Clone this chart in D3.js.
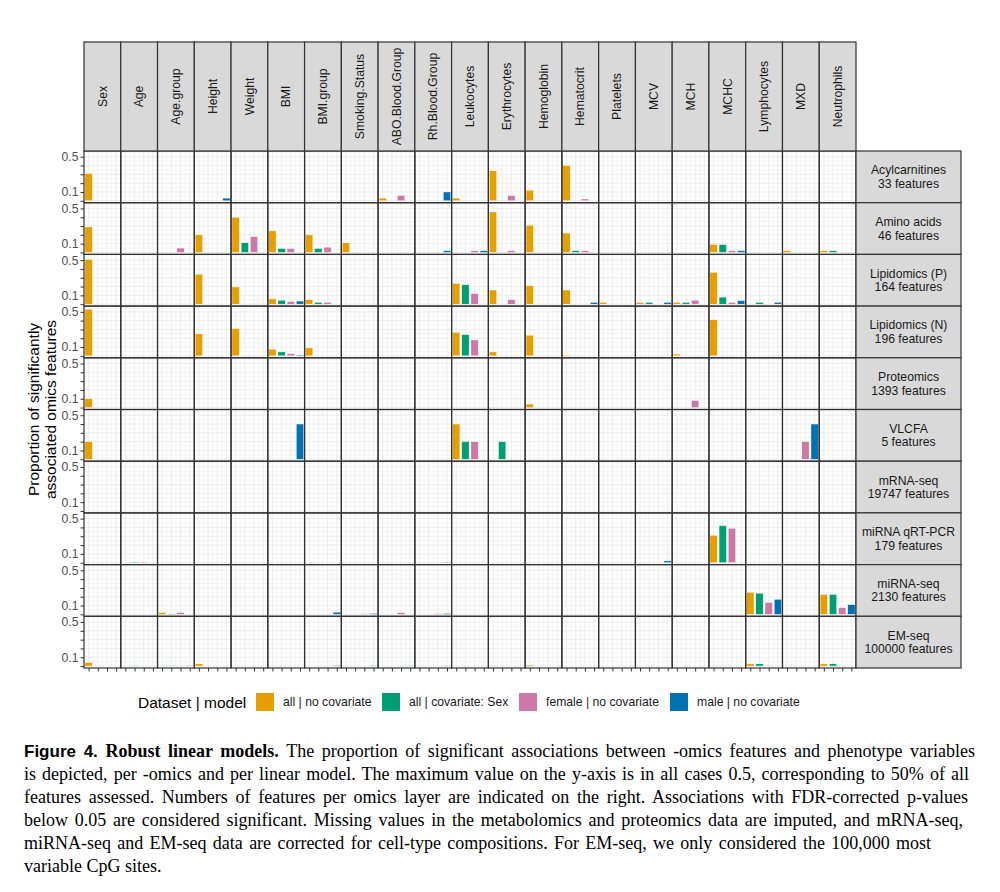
<!DOCTYPE html>
<html><head><meta charset="utf-8">
<script src="https://cdn.jsdelivr.net/npm/d3@7"></script>
<style>
html,body{margin:0;padding:0;background:#fff;}
svg{display:block;}
</style></head>
<body>
<svg id="chart" width="1000" height="892"></svg>
<script>
// ---------------- DATA ----------------
const variables = ["Sex","Age","Age.group","Height","Weight","BMI","BMI.group","Smoking.Status","ABO.Blood.Group","Rh.Blood.Group","Leukocytes","Erythrocytes","Hemoglobin","Hematocrit","Platelets","MCV","MCH","MCHC","Lymphocytes","MXD","Neutrophils"];
const omics = ["Acylcarnitines","Amino acids","Lipidomics (P)","Lipidomics (N)","Proteomics","VLCFA","mRNA-seq","miRNA qRT-PCR","miRNA-seq","EM-seq"];
const featureCounts = [33,46,164,196,1393,5,19747,179,2130,100000];
const models = ["all | no covariate","all | covariate: Sex","female | no covariate","male | no covariate"];
const modelColors = ["#E69F00","#009E73","#CC79A7","#0072B2"];
const yTickValues = [0,0.1,0.2,0.3,0.4,0.5];
const yTickLabels = ["","0.1","","","","0.5"];

// [omics, variable, proportion]
const allNoCovariate = [
 ["Acylcarnitines","Sex",0.31],["Acylcarnitines","ABO.Blood.Group",0.03],["Acylcarnitines","Leukocytes",0.03],["Acylcarnitines","Erythrocytes",0.34],["Acylcarnitines","Hemoglobin",0.12],["Acylcarnitines","Hematocrit",0.40],
 ["Amino acids","Sex",0.29],["Amino acids","Height",0.20],["Amino acids","Weight",0.40],["Amino acids","BMI",0.245],["Amino acids","BMI.group",0.20],["Amino acids","Smoking.Status",0.11],["Amino acids","Erythrocytes",0.46],["Amino acids","Hemoglobin",0.31],["Amino acids","Hematocrit",0.22],["Amino acids","MCHC",0.09],["Amino acids","MXD",0.02],["Amino acids","Neutrophils",0.02],
 ["Lipidomics (P)","Sex",0.51],["Lipidomics (P)","Height",0.34],["Lipidomics (P)","Weight",0.195],["Lipidomics (P)","BMI",0.06],["Lipidomics (P)","BMI.group",0.05],["Lipidomics (P)","Leukocytes",0.235],["Lipidomics (P)","Erythrocytes",0.16],["Lipidomics (P)","Hemoglobin",0.21],["Lipidomics (P)","Hematocrit",0.16],["Lipidomics (P)","Platelets",0.02],["Lipidomics (P)","MCV",0.02],["Lipidomics (P)","MCH",0.02],["Lipidomics (P)","MCHC",0.36],
 ["Lipidomics (N)","Sex",0.53],["Lipidomics (N)","Height",0.25],["Lipidomics (N)","Weight",0.31],["Lipidomics (N)","BMI",0.075],["Lipidomics (N)","BMI.group",0.09],["Lipidomics (N)","Leukocytes",0.265],["Lipidomics (N)","Erythrocytes",0.045],["Lipidomics (N)","Hemoglobin",0.235],["Lipidomics (N)","Hematocrit",0.01],["Lipidomics (N)","MCH",0.02],["Lipidomics (N)","MCHC",0.41],
 ["Proteomics","Sex",0.10],["Proteomics","Erythrocytes",0.004],["Proteomics","Hemoglobin",0.04],
 ["VLCFA","Sex",0.2],["VLCFA","Leukocytes",0.4],
 ["mRNA-seq","Sex",0.003],["mRNA-seq","Height",0.003],["mRNA-seq","Weight",0.003],["mRNA-seq","Erythrocytes",0.003],["mRNA-seq","Hemoglobin",0.003],
 ["miRNA qRT-PCR","MCHC",0.31],
 ["miRNA-seq","Age.group",0.02],["miRNA-seq","Lymphocytes",0.25],["miRNA-seq","Neutrophils",0.225],
 ["EM-seq","Sex",0.04],["EM-seq","Height",0.025],["EM-seq","Erythrocytes",0.004],["EM-seq","Hemoglobin",0.012],["EM-seq","Lymphocytes",0.025],["EM-seq","Neutrophils",0.025]
];
const allCovariateSex = [
 ["Amino acids","Weight",0.11],["Amino acids","BMI",0.045],["Amino acids","BMI.group",0.045],["Amino acids","Hematocrit",0.02],["Amino acids","MCHC",0.09],["Amino acids","Neutrophils",0.02],
 ["Lipidomics (P)","BMI",0.045],["Lipidomics (P)","BMI.group",0.02],["Lipidomics (P)","Leukocytes",0.22],["Lipidomics (P)","MCV",0.02],["Lipidomics (P)","MCH",0.02],["Lipidomics (P)","MCHC",0.08],["Lipidomics (P)","Lymphocytes",0.02],
 ["Lipidomics (N)","Weight",0.005],["Lipidomics (N)","BMI",0.045],["Lipidomics (N)","Leukocytes",0.24],["Lipidomics (N)","Hematocrit",0.005],
 ["VLCFA","Leukocytes",0.2],["VLCFA","Erythrocytes",0.2],
 ["miRNA qRT-PCR","Age",0.006],["miRNA qRT-PCR","MCHC",0.42],
 ["miRNA-seq","Age.group",0.005],["miRNA-seq","Lymphocytes",0.24],["miRNA-seq","Neutrophils",0.225],
 ["EM-seq","Age",0.004],["EM-seq","Age.group",0.004],["EM-seq","Lymphocytes",0.025],["EM-seq","Neutrophils",0.025]
];
const femaleNoCovariate = [
 ["Acylcarnitines","ABO.Blood.Group",0.06],["Acylcarnitines","Erythrocytes",0.06],["Acylcarnitines","Hematocrit",0.02],
 ["Amino acids","Age.group",0.05],["Amino acids","Weight",0.18],["Amino acids","BMI",0.045],["Amino acids","BMI.group",0.06],["Amino acids","Leukocytes",0.02],["Amino acids","Erythrocytes",0.02],["Amino acids","Hematocrit",0.02],["Amino acids","MCHC",0.02],
 ["Lipidomics (P)","Weight",0.005],["Lipidomics (P)","BMI",0.03],["Lipidomics (P)","BMI.group",0.02],["Lipidomics (P)","ABO.Blood.Group",0.005],["Lipidomics (P)","Leukocytes",0.12],["Lipidomics (P)","Erythrocytes",0.05],["Lipidomics (P)","MCH",0.045],["Lipidomics (P)","MCHC",0.02],
 ["Lipidomics (N)","BMI",0.025],["Lipidomics (N)","Leukocytes",0.18],["Lipidomics (N)","MCH",0.005],
 ["Proteomics","MCH",0.08],
 ["VLCFA","Leukocytes",0.2],["VLCFA","MXD",0.2],
 ["miRNA qRT-PCR","Age",0.006],["miRNA qRT-PCR","MCHC",0.39],
 ["miRNA-seq","Age.group",0.02],["miRNA-seq","Smoking.Status",0.005],["miRNA-seq","ABO.Blood.Group",0.02],["miRNA-seq","Rh.Blood.Group",0.008],["miRNA-seq","Lymphocytes",0.135],["miRNA-seq","Neutrophils",0.077],
 ["EM-seq","Age.group",0.004],["EM-seq","Lymphocytes",0.005],["EM-seq","Neutrophils",0.005]
];
const maleNoCovariate = [
 ["Acylcarnitines","Height",0.03],["Acylcarnitines","Rh.Blood.Group",0.10],
 ["Amino acids","Rh.Blood.Group",0.02],["Amino acids","Leukocytes",0.02],["Amino acids","MCHC",0.02],
 ["Lipidomics (P)","BMI",0.035],["Lipidomics (P)","Hematocrit",0.02],["Lipidomics (P)","MCV",0.02],["Lipidomics (P)","MCHC",0.04],["Lipidomics (P)","Lymphocytes",0.02],
 ["Lipidomics (N)","BMI",0.01],["Lipidomics (N)","Lymphocytes",0.005],["Lipidomics (N)","Neutrophils",0.005],
 ["VLCFA","BMI",0.4],["VLCFA","MXD",0.4],
 ["miRNA qRT-PCR","Rh.Blood.Group",0.005],["miRNA qRT-PCR","MCV",0.02],
 ["miRNA-seq","BMI.group",0.025],["miRNA-seq","Smoking.Status",0.01],["miRNA-seq","Rh.Blood.Group",0.01],["miRNA-seq","Lymphocytes",0.17],["miRNA-seq","Neutrophils",0.11],
 ["EM-seq","Age.group",0.004],["EM-seq","BMI.group",0.008],["EM-seq","Smoking.Status",0.005],["EM-seq","ABO.Blood.Group",0.005],["EM-seq","Rh.Blood.Group",0.005]
];
const seriesValues = [allNoCovariate, allCovariateSex, femaleNoCovariate, maleNoCovariate];

const captionLines = [
 "The proportion of significant associations between -omics features and phenotype variables",
 "is depicted, per -omics and per linear model. The maximum value on the y-axis is in all cases 0.5, corresponding to 50% of all",
 "features assessed. Numbers of features per omics layer are indicated on the right. Associations with FDR-corrected p-values",
 "below 0.05 are considered significant. Missing values in the metabolomics and proteomics data are imputed, and mRNA-seq,",
 "miRNA-seq and EM-seq data are corrected for cell-type compositions. For EM-seq, we only considered the 100,000 most",
 "variable CpG sites."
];

// ---------------- LAYOUT ----------------
const svg = d3.select("#chart");
const SANS = "'Liberation Sans', Arial, Helvetica, sans-serif";
const SERIF = "'Liberation Serif', 'Times New Roman', serif";
const panelLeft = 84, panelRight = 856, panelTop = 151, panelBottom = 668;
const stripTop = 42, stripRight = 961;
const colBand = d3.scaleBand().domain(variables).range([panelLeft, panelRight]);
const rowBand = d3.scaleBand().domain(omics).range([panelTop, panelBottom]);
const colW = colBand.bandwidth(), rowH = rowBand.bandwidth();
const xInner = d3.scalePoint().domain(models).range([0, colW]).padding(0.5);
const yInner = d3.scaleLinear().domain([-0.022, 0.565]).range([rowH, 0]);
const color = d3.scaleOrdinal().domain(models).range(modelColors);
const barW = xInner.step() * 0.8;
const borderCol = "#333333";

// grid
const gridG = svg.append("g");
omics.forEach(o => {
  variables.forEach(v => {
    const g = gridG.append("g").attr("transform", `translate(${colBand(v)},${rowBand(o)})`);
    const minorX = [];
    for (let i = 0; i <= models.length; i++) minorX.push(i * xInner.step());
    g.selectAll(".vmin").data(minorX).join("line")
      .attr("x1", d => d).attr("x2", d => d).attr("y1", 0).attr("y2", rowH)
      .attr("stroke", "#ebebeb").attr("stroke-width", 0.5);
    g.selectAll(".vmaj").data(models).join("line")
      .attr("x1", d => xInner(d)).attr("x2", d => xInner(d)).attr("y1", 0).attr("y2", rowH)
      .attr("stroke", "#e0e0e0").attr("stroke-width", 0.6);
    const minorY = [0.05,0.15,0.25,0.35,0.45,0.55];
    g.selectAll(".hmin").data(minorY).join("line")
      .attr("x1", 0).attr("x2", colW).attr("y1", d => yInner(d)).attr("y2", d => yInner(d))
      .attr("stroke", "#ebebeb").attr("stroke-width", 0.5);
    g.selectAll(".hmaj").data(yTickValues).join("line")
      .attr("x1", 0).attr("x2", colW).attr("y1", d => yInner(d)).attr("y2", d => yInner(d))
      .attr("stroke", "#e0e0e0").attr("stroke-width", 0.6);
  });
});

// bars
const barsG = svg.append("g");
seriesValues.forEach((series, mi) => {
  const m = models[mi];
  barsG.append("g").selectAll("rect").data(series).join("rect")
    .attr("x", d => colBand(d[1]) + xInner(m) - barW / 2)
    .attr("width", barW)
    .attr("y", d => rowBand(d[0]) + yInner(d[2]))
    .attr("height", d => Math.max(0, yInner(0) - yInner(d[2])))
    .attr("fill", color(m))
    .attr("stroke", "#ffffff").attr("stroke-width", 0.4);
});

// panel borders
const borderG = svg.append("g");
omics.forEach(o => {
  variables.forEach(v => {
    borderG.append("rect")
      .attr("x", colBand(v)).attr("y", rowBand(o))
      .attr("width", colW).attr("height", rowH)
      .attr("fill", "none").attr("stroke", borderCol).attr("stroke-width", 1.2);
  });
});

// top strips
const topStrip = svg.append("g");
variables.forEach(v => {
  topStrip.append("rect").attr("x", colBand(v)).attr("y", stripTop)
    .attr("width", colW).attr("height", panelTop - stripTop)
    .attr("fill", "#d9d9d9").attr("stroke", borderCol).attr("stroke-width", 1.2);
  const cx = colBand(v) + colW / 2, cy = (stripTop + panelTop) / 2;
  topStrip.append("text")
    .attr("transform", `translate(${cx + 4.2},${cy}) rotate(-90)`)
    .attr("text-anchor", "middle")
    .attr("font-family", SANS).attr("font-size", 12.2).attr("fill", "#1a1a1a")
    .text(v);
});

// right strips
const rightStrip = svg.append("g");
omics.forEach((o, i) => {
  rightStrip.append("rect").attr("x", panelRight).attr("y", rowBand(o))
    .attr("width", stripRight - panelRight).attr("height", rowH)
    .attr("fill", "#d9d9d9").attr("stroke", borderCol).attr("stroke-width", 1.2);
  const cx = (panelRight + stripRight) / 2, cy = rowBand(o) + rowH / 2;
  const t = rightStrip.append("text").attr("text-anchor", "middle")
    .attr("font-family", SANS).attr("font-size", 12.2).attr("fill", "#1a1a1a");
  t.append("tspan").attr("x", cx).attr("y", cy - 2.5).text(o);
  t.append("tspan").attr("x", cx).attr("y", cy + 11).text(featureCounts[i] + " features");
});

// y axes per row
omics.forEach(o => {
  const ax = d3.axisLeft(d3.scaleLinear().domain(yInner.domain()).range([rowBand(o) + rowH, rowBand(o)]))
    .tickValues(yTickValues)
    .tickFormat((d, i) => yTickLabels[i])
    .tickSize(3.5).tickPadding(2);
  const g = svg.append("g").attr("transform", `translate(${panelLeft},0)`).call(ax);
  g.select(".domain").remove();
  g.selectAll(".tick line").attr("stroke", "#333").attr("stroke-width", 1);
  g.selectAll(".tick text").attr("font-family", SANS).attr("font-size", 12.2).attr("fill", "#4d4d4d");
});

// x ticks (bottom row)
variables.forEach(v => {
  const ax = d3.axisBottom(d3.scalePoint().domain(models).range([colBand(v), colBand(v) + colW]).padding(0.5))
    .tickSize(3.5).tickFormat("");
  const g = svg.append("g").attr("transform", `translate(0,${panelBottom})`).call(ax);
  g.select(".domain").remove();
  g.selectAll(".tick line").attr("stroke", "#333").attr("stroke-width", 1);
});

// y title
const yt = svg.append("text")
  .attr("transform", `translate(0,${(panelTop + panelBottom) / 2}) rotate(-90)`)
  .attr("text-anchor", "middle").attr("font-family", SANS).attr("font-size", 15.5).attr("fill", "#000");
yt.append("tspan").attr("x", 0).attr("y", 39).text("Proportion of significantly");
yt.append("tspan").attr("x", 0).attr("y", 55.5).text("associated omics features");

// legend
const legY = 702;
const leg = svg.append("g");
leg.append("text").attr("x", 138).attr("y", legY + 5.5)
  .attr("font-family", SANS).attr("font-size", 15.5).attr("fill", "#000").text("Dataset | model");
const keyX = [256, 382, 519, 670];
models.forEach((m, i) => {
  leg.append("rect").attr("x", keyX[i]).attr("y", legY - 9).attr("width", 18).attr("height", 18)
    .attr("fill", color(m));
  leg.append("text").attr("x", keyX[i] + 27).attr("y", legY + 4.2)
    .attr("font-family", SANS).attr("font-size", 12.2).attr("fill", "#1a1a1a").text(m);
});

// caption
const capX = 24, capY0 = 757, capDY = 22.9;
const capTargets = [975, 969, 968, 963, 931, null];
captionLines.forEach((line, i) => {
  const t = svg.append("text").attr("x", capX).attr("y", capY0 + i * capDY)
    .attr("font-family", SERIF).attr("font-size", 18).attr("fill", "#000");
  if (i === 0) {
    t.append("tspan").attr("font-family", SANS).attr("font-weight", "bold").attr("font-size", 17).text("Figure 4. ");
    t.append("tspan").attr("font-weight", "bold").text("Robust linear models. ");
  }
  t.append("tspan").text(line);
  if (capTargets[i]) {
    const w = t.node().getComputedTextLength();
    const spaces = (i === 0 ? ("Figure 4. Robust linear models. " + line) : line).split(" ").length - 1;
    const extra = (capTargets[i] - capX - w) / spaces;
    t.attr("word-spacing", extra);
  }
});
</script>
</body></html>
